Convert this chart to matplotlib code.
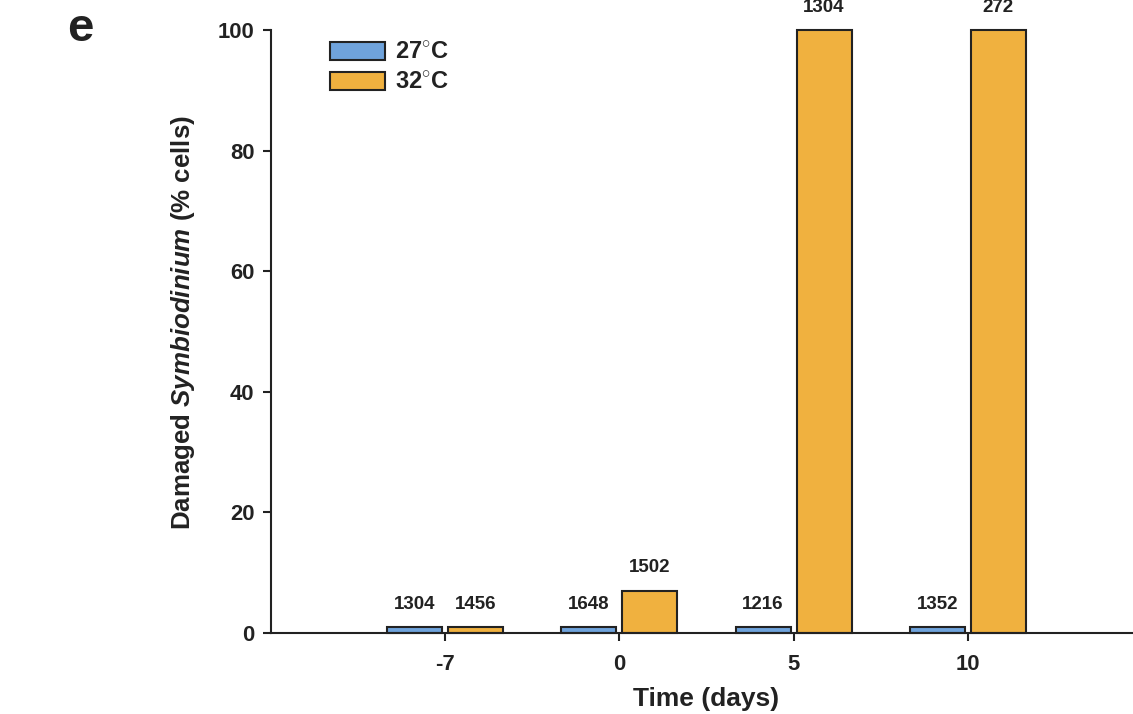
import matplotlib
matplotlib.use("Agg")
import matplotlib.pyplot as plt
import numpy as np

plt.rcParams['font.family'] = ['Liberation Sans', 'DejaVu Sans']
plt.rcParams['mathtext.fontset'] = 'custom'
plt.rcParams['mathtext.bfit'] = 'Liberation Sans:bold:italic'
plt.rcParams['mathtext.bf'] = 'Liberation Sans:bold'
plt.rcParams['mathtext.rm'] = 'Liberation Sans:bold'

categories = ['-7', '0', '5', '10']
series_names = ['27$^{\\circ}$C', '32$^{\\circ}$C']
values_27 = [1, 1, 1, 1]
values_32 = [1, 7, 100, 100]
n_27 = ['1304', '1648', '1216', '1352']
n_32 = ['1456', '1502', '1304', '272']
yticks = [0, 20, 40, 60, 80, 100]

col_27 = '#6fa3dc'
col_32 = '#f0b13f'
edge = '#222222'

fig = plt.figure(figsize=(11.33, 7.14), dpi=100)
ax = fig.add_axes([271/1133, 81/714, (1142-271)/1133, 603/714])

x = np.arange(len(categories))
w = 0.316
off = 0.175
b1 = ax.bar(x - off, values_27, w, color=col_27, edgecolor=edge, linewidth=1.5, label=series_names[0], clip_on=False)
b2 = ax.bar(x + off, values_32, w, color=col_32, edgecolor=edge, linewidth=1.5, label=series_names[1], clip_on=False)

for bars, labels in ((b1, n_27), (b2, n_32)):
    for rect, lab in zip(bars, labels):
        ax.annotate(lab, (rect.get_x() + rect.get_width()/2, rect.get_height()),
                    xytext=(0, 10.3), textcoords='offset points', ha='center', va='bottom',
                    fontsize=13.5, fontweight='bold', color='#222222', annotation_clip=False)

ax.set_xlim(-1, 4)
ax.set_ylim(0, 100)
ax.set_xticks(x)
ax.set_xticklabels(categories)
ax.set_yticks(yticks)
for s in ['top', 'right']:
    ax.spines[s].set_visible(False)
for s in ['left', 'bottom']:
    ax.spines[s].set_linewidth(1.5)
    ax.spines[s].set_color('#222222')
ax.tick_params(axis='both', direction='out', length=6, width=1.5, color='#222222',
               labelsize=15.8, labelcolor='#222222')
ax.tick_params(axis='x', pad=9)
ax.tick_params(axis='y', pad=6)
for lab in ax.get_xticklabels() + ax.get_yticklabels():
    lab.set_fontweight('bold')

ax.set_xlabel('Time (days)', fontsize=19, fontweight='bold', color='#222222', labelpad=9)
ax.set_ylabel(r'Damaged $\mathbfit{Symbiodinium}$ (% cells)', fontsize=18.6, fontweight='bold',
              color='#222222')
ax.yaxis.set_label_coords((197-271)/871, (633-323)/603)

leg = ax.legend(loc='upper left', bbox_to_anchor=((330-271)/871, (633-41)/603), frameon=False,
                handlelength=2.35, handleheight=0.8, fontsize=17, labelspacing=0.3,
                handletextpad=0.42, borderaxespad=0, borderpad=0)
for t in leg.get_texts():
    t.set_fontweight('bold')
    t.set_color('#222222')
for h in leg.legend_handles:
    h.set_linewidth(1.5)

fig.text(67/1133, 1 - 29/714, 'e', fontsize=34, fontweight='bold', color='#222222', va='center')

fig.savefig('out.png', dpi=100)
